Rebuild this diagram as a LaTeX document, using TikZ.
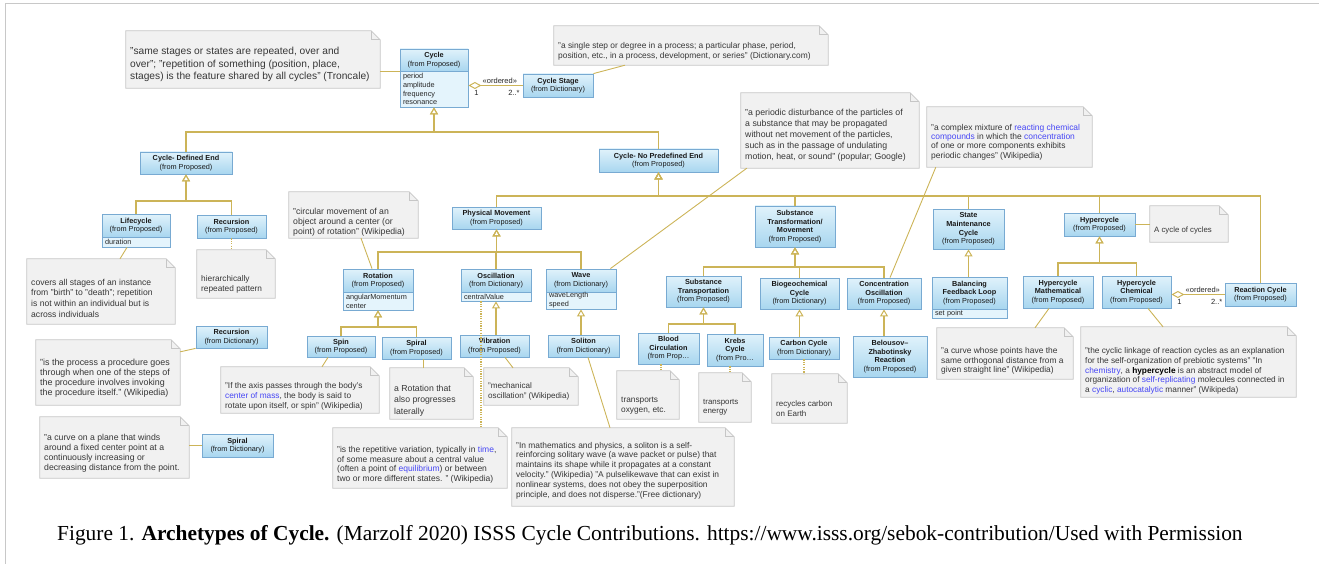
\documentclass[tikz,border=0pt]{standalone}
\usepackage{fontspec}
\setmainfont{Liberation Sans}
\newfontfamily\capfont{Liberation Serif}
\usetikzlibrary{arrows.meta}
\definecolor{CboxT}{RGB}{224,242,251}
\definecolor{CboxB}{RGB}{168,214,239}
\definecolor{CboxD}{RGB}{120,170,210}
\definecolor{CattR}{RGB}{228,244,252}
\definecolor{CnoteF}{RGB}{241,241,241}
\definecolor{CnoteD}{RGB}{198,198,198}
\definecolor{CnoteT}{RGB}{55,55,55}
\definecolor{Cline}{RGB}{204,180,88}
\definecolor{Clink}{RGB}{70,70,245}
\definecolor{Cframe}{RGB}{200,200,200}
\tikzset{
classbox/.style={draw=CboxD, line width=0.8pt, top color=CboxT, bottom color=CboxB, inner sep=1pt, align=center, font=\fontsize{7.3}{8.6}\selectfont, text=black!90},
attrbox/.style={draw=CboxD, line width=0.8pt, fill=CattR, inner xsep=3pt, inner ysep=0pt, align=left, font=\fontsize{7.3}{8.9}\selectfont, text=black!85},
notearea/.style={inner sep=0pt},
notebox/.style={draw=CnoteD, fill=CnoteF, line width=0.8pt},
notetext/.style={inner sep=0pt, align=left, text=CnoteT, font=\fontsize{8.6}{10}\selectfont},
fs/.style 2 args={font=\fontsize{#1}{#2}\selectfont},
gen/.style={draw=Cline, line width=1.1pt, -{Triangle[open, width=8pt, length=7pt, line width=1pt]}},
agg/.style={draw=Cline, line width=1.1pt, -{Diamond[open, width=7pt, length=13pt, line width=1pt]}},
link/.style={draw=Cline, line width=0.9pt},
dotlink/.style={draw=Cline, line width=1.2pt, dash pattern=on 1.2pt off 1.2pt},
lbl/.style={inner sep=1pt, font=\fontsize{7.5}{9}\selectfont, text=black!85},
}
\newcommand\lk[1]{\textcolor{Clink}{#1}}

\begin{document}
\begin{tikzpicture}[x=1pt, y=-1pt]
\useasboundingbox (0,0) rectangle (1319,564);

%% Definitions
\newcommand\umlclass[6]
{
% name: #1
% left, top: #2, #3
% right, bottom: #4, #5
% text: #6
\node[classbox, minimum width=(#4-#2)*1pt, minimum height=(#5-#3)*1pt] (#1) at ({(#2+#4)/2},{(#3+#5)/2}) {#6};
}
%%
\newcommand\umlattr[6]
{
% name: #1
% left, top: #2, #3
% right, bottom: #4, #5
% attributes: #6
\node[attrbox, text width=(#4-#2-6)*1pt, minimum height=(#5-#3)*1pt] (#1) at ({(#2+#4)/2},{(#3+#5)/2}) {#6};
}
%%
\newcommand\umlnote[8]
{
% name: #1
% left, top: #2, #3
% right, bottom: #4, #5
% text middle: #6
% text style: #7
% text: #8
\node[notearea, minimum width=(#4-#2)*1pt, minimum height=(#5-#3)*1pt] (#1) at ({(#2+#4)/2},{(#3+#5)/2}) {};
\draw[notebox] (#1.north west) -- ([xshift=-9pt]#1.north east) -- ([yshift=-9pt]#1.north east) -- (#1.south east) -- (#1.south west) -- cycle;
\draw[notebox, fill=none] ([xshift=-9pt]#1.north east) |- ([yshift=-9pt]#1.north east);
\node[notetext, anchor=west, #7] (#1t) at (#2+4,#6) {#8};
}

% --------------------------------------------------------

%% frame
\draw[Cframe, line width=1pt] (5,564) -- (5,4) -- (1319,4);

%% Cycle
\umlclass{cycle}{400}{49}{468}{71}{\textbf{Cycle}\\(from Proposed)}
\umlattr{cycleA}{400}{71}{468}{107}{period\\amplitude\\frequency\\resonance}
\umlclass{cycleStage}{523}{74}{593}{97}{\textbf{Cycle Stage}\\(from Dictionary)}
\umlnote{noteTroncale}{126}{31}{380}{88}{64.5}{fs={10.2}{12.6}}{"same stages or states are repeated, over and\\over"; "repetition of something (position, place,\\stages) is the feature shared by all cycles" (Troncale)}
\umlnote{noteStage}{554}{26}{828}{65}{51}{fs={8.4}{10}}{"a single step or degree in a process; a particular phase, period,\\position, etc., in a process, development, or series" (Dictionary.com)}

\umlclass{definedEnd}{140}{152}{232}{174}{\textbf{Cycle- Defined End}\\(from Proposed)}
\umlclass{noEnd}{599}{149}{718}{172}{\textbf{Cycle- No Predefined End}\\(from Proposed)}

% --------------------------------------------------------

%% Defined End
\umlclass{lifecycle}{102}{214}{170}{237}{\textbf{Lifecycle}\\(from Proposed)}
\umlattr{lifecycleA}{102}{237}{170}{247}{duration}
\umlclass{recursionP}{197}{215}{266}{238}{\textbf{Recursion}\\(from Proposed)}
\umlnote{noteLife}{27}{259}{175}{324}{298}{fs={8.6}{10.7}}{covers all stages of an instance\\from "birth" to "death"; repetition\\is not within an individual but is\\across individuals}
\umlnote{noteRecP}{197}{250}{275}{298}{284}{fs={8.3}{10}}{hierarchically\\repeated pattern}

\umlclass{recursionD}{196}{326}{267}{348}{\textbf{Recursion}\\(from Dictionary)}
\umlnote{noteRecD}{36}{340}{180}{405}{378}{fs={8.9}{10}}{"is the process a procedure goes\\through when one of the steps of\\the procedure involves invoking\\the procedure itself." (Wikipedia)}
\umlclass{spiralD}{202}{434}{273}{457}{\textbf{Spiral}\\(from Dictionary)}
\umlnote{noteSpiralD}{40}{417}{189}{478}{453}{fs={8.7}{10}}{"a curve on a plane that winds\\around a fixed center point at a\\continuously increasing or\\decreasing distance from the point.}

% --------------------------------------------------------

%% Physical Movement
\umlclass{physical}{452}{207}{541}{229}{\textbf{Physical Movement}\\(from Proposed)}
\umlclass{rotation}{343}{269}{413}{292}{\textbf{Rotation}\\(from Proposed)}
\umlattr{rotationA}{343}{292}{413}{310}{angularMomentum\\center}
\umlclass{oscillation}{461}{269}{531}{292}{\textbf{Oscillation}\\(from Dictionary)}
\umlattr{oscillationA}{461}{292}{531}{301}{centralValue}
\umlclass{wave}{546}{269}{616}{292}{\textbf{Wave}\\(from Dictionary)}
\umlattr{waveA}{546}{292}{616}{309}{waveLength\\speed}
\umlclass{spin}{307}{336}{375}{357}{\textbf{Spin}\\(from Proposed)}
\umlclass{spiralP}{382}{337}{451}{359}{\textbf{Spiral}\\(from Proposed)}
\umlclass{vibration}{460}{335}{529}{357}{\textbf{Vibration}\\(from Proposed)}
\umlclass{soliton}{548}{335}{619}{357}{\textbf{Soliton}\\(from Dictionary)}

\umlnote{noteRotation}{289}{192}{418}{238}{222}{fs={8.7}{10}}{"circular movement of an\\object around a center (or\\point) of rotation" (Wikipedia)}
\umlnote{noteWave}{741}{93}{919}{168}{135}{fs={8.75}{11}}{"a periodic disturbance of the particles of\\a substance that may be propagated\\without net movement of the particles,\\such as in the passage of undulating\\motion, heat, or sound" (popular; Google)}
\umlnote{noteSpin}{221}{367}{379}{413}{396}{fs={8.3}{10}}{"If the axis passes through the body's\\\lk{center of mass}, the body is said to\\rotate upon itself, or spin" (Wikipedia)}
\umlnote{noteSpiralP}{390}{368}{473}{419}{400.5}{fs={8.7}{11.5}}{a Rotation that\\also progresses\\laterally}
\umlnote{noteVibration}{484}{368}{578}{405}{391}{fs={8.1}{10}}{"mechanical\\oscillation" (Wikipedia)}
\umlnote{noteOsc}{333}{428}{507}{488}{465}{fs={8.5}{9.5}}{"is the repetitive variation, typically in \lk{time},\\of some measure about a central value\\(often a point of \lk{equilibrium}) or between\\two or more different states. " (Wikipedia)}
\umlnote{noteSoliton}{512}{428}{734}{506}{470.5}{fs={8.4}{9.8}}{"In mathematics and physics, a soliton is a self-\\reinforcing solitary wave (a wave packet or pulse) that\\maintains its shape while it propagates at a constant\\velocity." (Wikipedia) "A pulselikewave that can exist in\\nonlinear systems, does not obey the superposition\\principle, and does not disperse."(Free dictionary)}

% --------------------------------------------------------

%% Substance
\umlclass{substance}{755}{206}{835}{247}{\textbf{Substance}\\\textbf{Transformation/}\\\textbf{Movement}\\(from Proposed)}
\umlclass{transport}{666}{276}{741}{307}{\textbf{Substance}\\\textbf{Transportation}\\(from Proposed)}
\umlclass{biogeo}{760}{278}{839}{309}{\textbf{Biogeochemical}\\\textbf{Cycle}\\(from Dictionary)}
\umlclass{concentration}{847}{278}{921}{309}{\textbf{Concentration}\\\textbf{Oscillation}\\(from Proposed)}
\umlclass{blood}{638}{333}{699}{364}{\textbf{Blood}\\\textbf{Circulation}\\(from Prop\ldots}
\umlclass{krebs}{707}{334}{763}{366}{\textbf{Krebs}\\\textbf{Cycle}\\(from Pro\ldots}
\umlclass{carbon}{769}{337}{839}{359}{\textbf{Carbon Cycle}\\(from Dictionary)}
\umlclass{belousov}{853}{336}{927}{377}{\textbf{Belousov--}\\\textbf{Zhabotinsky}\\\textbf{Reaction}\\(from Proposed)}

\umlnote{noteConc}{927}{107}{1092}{167}{142}{fs={8.45}{9.4}}{"a complex mixture of \lk{reacting chemical}\\\lk{compounds} in which the \lk{concentration}\\of one or more components exhibits\\periodic changes" (Wikipedia)}
\umlnote{noteBlood}{617}{371}{679}{419}{405.5}{fs={8.3}{10.5}}{transports\\oxygen, etc.}
\umlnote{noteKrebs}{699}{373}{751}{422}{407.5}{fs={7.9}{9.5}}{transports\\energy}
\umlnote{noteCarbon}{772}{374}{847}{423}{408.5}{fs={8}{9.5}}{recycles carbon\\on Earth}

% --------------------------------------------------------

%% State Maintenance, Hypercycle
\umlclass{state}{933}{209}{1004}{249}{\textbf{State}\\\textbf{Maintenance}\\\textbf{Cycle}\\(from Proposed)}
\umlclass{balancing}{932}{277}{1007}{309}{\textbf{Balancing}\\\textbf{Feedback Loop}\\(from Proposed)}
\umlattr{balancingA}{932}{309}{1007}{318}{set point}
\umlclass{hyper}{1064}{213}{1135}{236}{\textbf{Hypercycle}\\(from Proposed)}
\umlclass{hyperMath}{1023}{276}{1093}{308}{\textbf{Hypercycle}\\\textbf{Mathematical}\\(from Proposed)}
\umlclass{hyperChem}{1102}{276}{1171}{308}{\textbf{Hypercycle}\\\textbf{Chemical}\\(from Proposed)}
\umlclass{reaction}{1225}{283}{1296}{306}{\textbf{Reaction Cycle}\\(from Proposed)}

\umlnote{noteHyperMath}{937}{328}{1073}{379}{361}{fs={8.4}{9.7}}{"a curve whose points have the\\same orthogonal distance from a\\given straight line" (Wikipedia)}
\umlnote{noteCycles}{1150}{206}{1228}{242}{230}{fs={7.8}{9.5}}{A cycle of cycles}
\umlnote{noteHyperChem}{1081}{327}{1296}{397}{371}{fs={8.3}{9.7}}{"the cyclic linkage of reaction cycles as an explanation\\for the self-organization of prebiotic systems" "In\\\lk{chemistry}, a \textcolor{black}{\textbf{hypercycle}} is an abstract model of\\organization of \lk{self-replicating} molecules connected in\\a \lk{cyclic}, \lk{autocatalytic} manner" (Wikipeda)}

% --------------------------------------------------------

%% generalization
\coordinate (busTop) at (434,132);
\coordinate (busDef) at (186,201);
\coordinate (busNoEnd) at (658.5,196);
\coordinate (busPhys) at (496.5,252);
\coordinate (busRot) at (378,327);
\coordinate (busSub) at (795,267);
\coordinate (busTrans) at (703.5,324);
\coordinate (busHyper) at (1099.5,263);

\draw[gen] (definedEnd.north) |- (busTop) -- (cycleA.south);
\draw[gen] (noEnd.north) |- (busTop) -- (cycleA.south);
\draw[gen] (lifecycle.north) |- (busDef) -- (definedEnd.south);
\draw[gen] (recursionP.north) |- (busDef) -- (definedEnd.south);
\draw[gen] (physical.north) |- (busNoEnd) -- (noEnd.south);
\draw[gen] (substance.north) |- (busNoEnd) -- (noEnd.south);
\draw[gen] (state.north) |- (busNoEnd) -- (noEnd.south);
\draw[gen] (hyper.north) |- (busNoEnd) -- (noEnd.south);
\draw[gen] (reaction.north) |- (busNoEnd) -- (noEnd.south);
\draw[gen] (rotation.north) |- (busPhys) -- (physical.south);
\draw[gen] (oscillation.north) |- (busPhys) -- (physical.south);
\draw[gen] (wave.north) |- (busPhys) -- (physical.south);
\draw[gen] (spin.north) |- (busRot) -- (rotationA.south);
\draw[gen] (spiralP.north) |- (busRot) -- (rotationA.south);
\draw[gen] (vibration.north -| oscillationA.south) -- (oscillationA.south);
\draw[gen] (soliton.north -| waveA.south) -- (waveA.south);
\draw[gen] (transport.north) |- (busSub) -- (substance.south);
\draw[gen] (biogeo.north) |- (busSub) -- (substance.south);
\draw[gen] (concentration.north) |- (busSub) -- (substance.south);
\draw[gen] (blood.north) |- (busTrans) -- (transport.south);
\draw[gen] (krebs.north) |- (busTrans) -- (transport.south);
\draw[gen] (carbon.north -| biogeo.south) -- (biogeo.south);
\draw[gen] (belousov.north -| concentration.south) -- (concentration.south);
\draw[gen] (balancing.north -| state.south) -- (state.south);
\draw[gen] (hyperMath.north) |- (busHyper) -- (hyper.south);
\draw[gen] (hyperChem.north) |- (busHyper) -- (hyper.south);

%% aggregation
\draw[agg] (cycleStage.west) -- (cycleStage.west -| cycleA.east)
  node[lbl, pos=0.42, above] {«ordered»}
  node[lbl, pos=0.85, below=3pt] {1}
  node[lbl, pos=0.16, below=3pt] {2..*};
\draw[agg] (reaction.west) -- (reaction.west -| hyperChem.east)
  node[lbl, pos=0.41, above] {«ordered»}
  node[lbl, pos=0.85, below=3pt] {1}
  node[lbl, pos=0.15, below=3pt] {2..*};

%% note links
\draw[link] (cycle.south west) -- (cycle.south west -| noteTroncale.east);
\draw[link] ([xshift=-66pt]noteStage.south) -- (cycleStage.north east);
\draw[link] ([xshift=-9pt]lifecycleA.south) -- ([xshift=19pt]noteLife.north);
\draw[dotlink] (recursionP.south) -- (recursionP.south |- noteRecP.north);
\draw[link] ([yshift=-12pt]noteRecD.north east) -- (recursionD.south west);
\draw[link] (spiralD.west) -- (spiralD.west -| noteSpiralD.east);
\draw[link] ([xshift=7.5pt]noteRotation.south) -- ([xshift=-6pt]rotation.north);
\draw[link] ([xshift=6pt]noteWave.south west) -- ([xshift=-6pt]wave.north east);
\draw[link] ([xshift=9pt]noteConc.south west) -- ([xshift=6pt]concentration.north);
\draw[link] ([xshift=-13pt]spin.south) -- ([xshift=22pt]noteSpin.north);
\draw[link] ([xshift=6.5pt]spiralP.south) -- ([xshift=6.5pt]spiralP.south |- noteSpiralP.north);
\draw[dotlink] ([xshift=-15pt]oscillationA.south) -- ([xshift=-15pt]oscillationA.south |- noteOsc.north);
\draw[link] ([xshift=10.5pt]vibration.south) -- ([xshift=-18pt]noteVibration.north);
\draw[link] ([xshift=4.5pt]soliton.south) -- ([xshift=-13pt]noteSoliton.north);
\draw[dotlink] ([xshift=-7.5pt]blood.south) -- ([xshift=-7.5pt]blood.south |- noteBlood.north);
\draw[dotlink] ([xshift=-5pt]krebs.south) -- ([xshift=-5pt]krebs.south |- noteKrebs.north);
\draw[dotlink] (carbon.south) -- (carbon.south |- noteCarbon.north);
\draw[link] ([xshift=30pt]noteHyperMath.north) -- ([xshift=-9pt]hyperMath.south);
\draw[link] (hyper.east) -- (hyper.east -| noteCycles.west);
\draw[link] ([xshift=11.5pt]hyperChem.south) -- ([xshift=-25.5pt]noteHyperChem.north);

% --------------------------------------------------------

%% caption
\node[anchor=west, inner sep=0pt, font=\capfont\fontsize{21.4}{24}\selectfont] (caption) at (57,535) {Figure 1. \textbf{Archetypes of Cycle.} (Marzolf 2020) ISSS Cycle Contributions. https://www.isss.org/sebok-contribution/Used with Permission};
\end{tikzpicture}
\end{document}
